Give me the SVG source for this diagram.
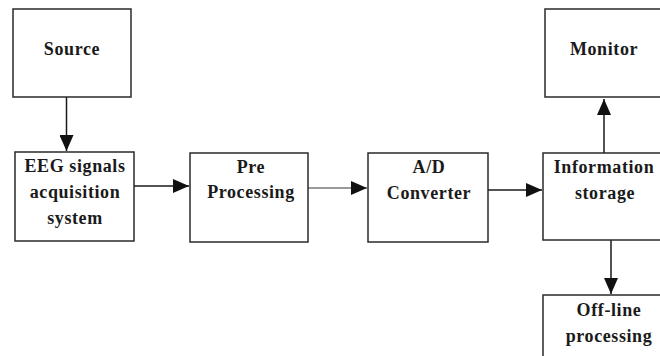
<svg xmlns="http://www.w3.org/2000/svg" width="660" height="356" viewBox="0 0 660 356" font-family="Liberation Serif, Times New Roman, serif">
  <style>
    .box { fill: #ffffff; stroke: #2a2a2a; stroke-width: 1.5; }
    .lbl { font-weight: bold; font-size: 18px; fill: #1a1a1a; text-anchor: middle; letter-spacing: 0.6px; }
    .wire { stroke: #1a1a1a; stroke-width: 1.5; fill: none; }
    .grey { stroke: #777777; }
  </style>
  <defs>
    <marker id="ah" viewBox="0 0 16 14" refX="16" refY="7" markerWidth="16" markerHeight="14" markerUnits="userSpaceOnUse" orient="auto">
      <path d="M0,0 L16,7 L0,14 Z" fill="#111111"/>
    </marker>
  </defs>
  <rect width="660" height="356" fill="#ffffff"/>
  <g id="connectors">
    <line class="wire" x1="66.5" y1="97" x2="66.5" y2="151" marker-end="url(#ah)"/>
    <line class="wire" x1="134" y1="186" x2="189" y2="186" marker-end="url(#ah)"/>
    <line class="wire grey" x1="308" y1="188" x2="367" y2="188" marker-end="url(#ah)"/>
    <line class="wire" x1="488" y1="190" x2="542" y2="190" marker-end="url(#ah)"/>
    <line class="wire" x1="604" y1="153" x2="604" y2="99" marker-end="url(#ah)"/>
    <line class="wire" x1="611" y1="240" x2="611" y2="294" marker-end="url(#ah)"/>
  </g>
  <g id="source" font-family="Liberation Serif, serif">
    <rect class="box" x="13" y="9" width="118" height="88"/>
    <text class="lbl" x="72" y="55">Source</text>
  </g>
  <g id="eeg" font-family="Liberation Serif, serif">
    <rect class="box" x="15" y="152" width="119" height="89"/>
    <text class="lbl" x="75" y="172">EEG signals</text>
    <text class="lbl" x="75" y="198">acquisition</text>
    <text class="lbl" x="75" y="224">system</text>
  </g>
  <g id="pre" font-family="Liberation Serif, serif">
    <rect class="box" x="190" y="153" width="118" height="89"/>
    <text class="lbl" x="251" y="173">Pre</text>
    <text class="lbl" x="251" y="198">Processing</text>
  </g>
  <g id="adc" font-family="Liberation Serif, serif">
    <rect class="box" x="368" y="153" width="120" height="89"/>
    <text class="lbl" x="429" y="173">A/D</text>
    <text class="lbl" x="429" y="199">Converter</text>
  </g>
  <g id="storage" font-family="Liberation Serif, serif">
    <rect class="box" x="543" y="153" width="125" height="87"/>
    <text class="lbl" x="604" y="173">Information</text>
    <text class="lbl" x="605" y="199">storage</text>
  </g>
  <g id="monitor" font-family="Liberation Serif, serif">
    <rect class="box" x="545" y="9" width="125" height="88"/>
    <text class="lbl" x="604" y="55">Monitor</text>
  </g>
  <g id="offline" font-family="Liberation Serif, serif">
    <rect class="box" x="543" y="295" width="135" height="80"/>
    <text class="lbl" x="609" y="316">Off-line</text>
    <text class="lbl" x="609" y="342">processing</text>
  </g>
</svg>
